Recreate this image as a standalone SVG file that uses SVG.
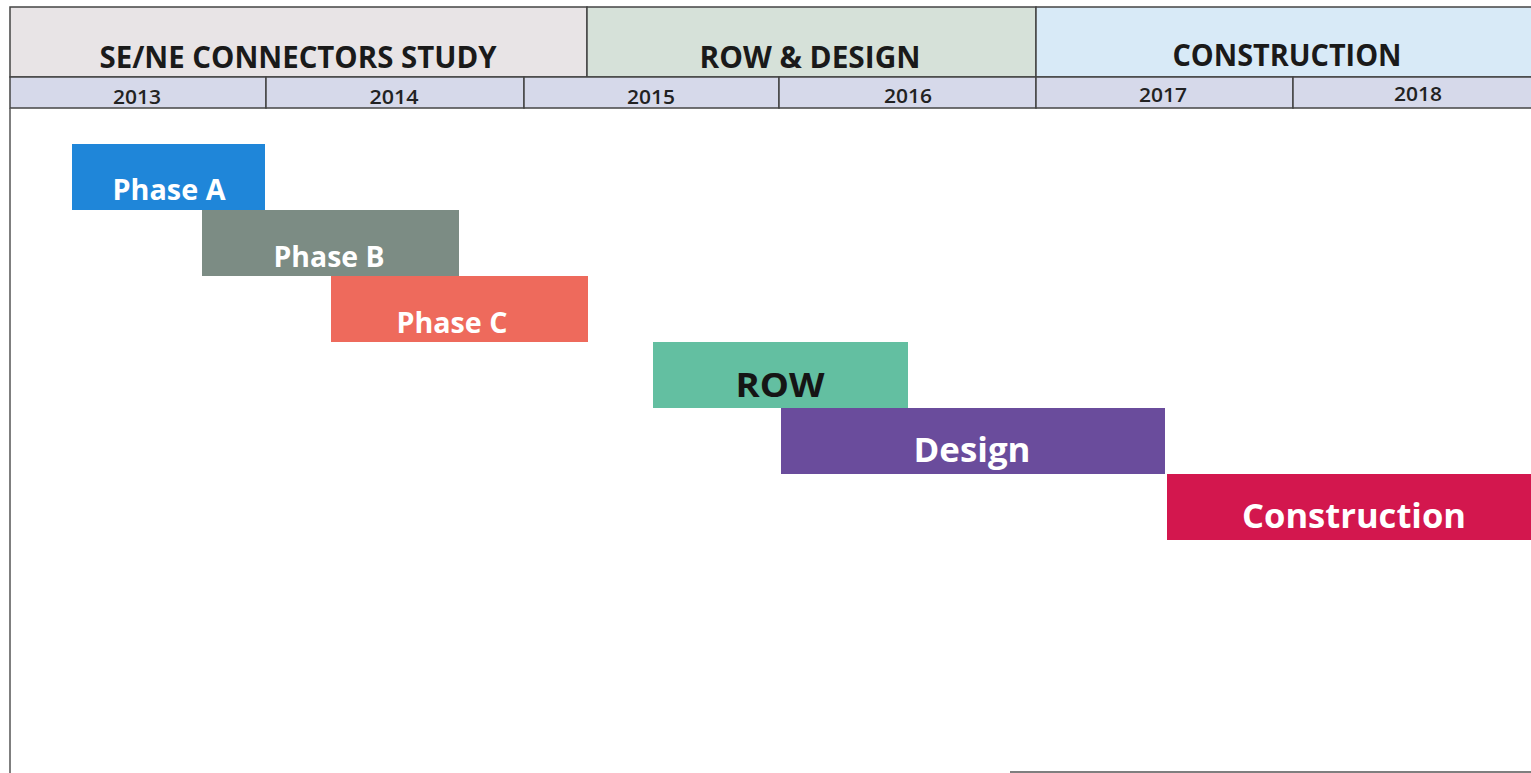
<svg xmlns="http://www.w3.org/2000/svg" width="1531" height="773" viewBox="0 0 1531 773">
<style>
.t{font-family:"Open Sans","Noto Sans","Liberation Sans",sans-serif;font-weight:bold;}
.hd{font-size:31px;fill:#1a1a1a;}
.yr{font-size:20px;fill:#222;font-weight:600;}
.bar{font-size:28px;fill:#fff;}
.cell{stroke:#444;stroke-width:1.5;}
</style>
<rect width="1531" height="773" fill="#fff"/>
<g id="header">
<rect class="cell" x="10" y="7" width="577" height="70" fill="#e8e4e6"/>
<rect class="cell" x="587" y="7" width="449" height="70" fill="#d6e1d9"/>
<rect class="cell" x="1036" y="7" width="497" height="70" fill="#d8eaf7"/>
<text class="t hd" x="298" y="68" text-anchor="middle" textLength="397" lengthAdjust="spacingAndGlyphs">SE/NE CONNECTORS STUDY</text>
<text class="t hd" x="810" y="68" text-anchor="middle" textLength="221" lengthAdjust="spacingAndGlyphs">ROW &amp; DESIGN</text>
<text class="t hd" x="1287" y="66" text-anchor="middle" textLength="229" lengthAdjust="spacingAndGlyphs">CONSTRUCTION</text>
</g>
<g id="years">
<rect class="cell" x="10" y="77" width="256" height="31" fill="#d6d9ea"/>
<rect class="cell" x="266" y="77" width="258" height="31" fill="#d6d9ea"/>
<rect class="cell" x="524" y="77" width="255" height="31" fill="#d6d9ea"/>
<rect class="cell" x="779" y="77" width="257" height="31" fill="#d6d9ea"/>
<rect class="cell" x="1036" y="77" width="257" height="31" fill="#d6d9ea"/>
<rect class="cell" x="1293" y="77" width="240" height="31" fill="#d6d9ea"/>
<text class="t yr" x="137" y="104" text-anchor="middle" textLength="48" lengthAdjust="spacingAndGlyphs">2013</text>
<text class="t yr" x="394" y="104" text-anchor="middle" textLength="49" lengthAdjust="spacingAndGlyphs">2014</text>
<text class="t yr" x="651" y="104" text-anchor="middle" textLength="48" lengthAdjust="spacingAndGlyphs">2015</text>
<text class="t yr" x="908" y="103" text-anchor="middle" textLength="48" lengthAdjust="spacingAndGlyphs">2016</text>
<text class="t yr" x="1163" y="102" text-anchor="middle" textLength="48" lengthAdjust="spacingAndGlyphs">2017</text>
<text class="t yr" x="1418" y="101" text-anchor="middle" textLength="48" lengthAdjust="spacingAndGlyphs">2018</text>
</g>
<g id="frame">
<line x1="10" y1="108" x2="10" y2="773" stroke="#555" stroke-width="1.5"/>
<line x1="1010" y1="772" x2="1531" y2="772" stroke="#555" stroke-width="1.5"/>
</g>
<g id="phase-a">
<rect x="72" y="144" width="193" height="66" fill="#1f86d9"/>
<text class="t bar" x="169" y="200" text-anchor="middle" textLength="113" lengthAdjust="spacingAndGlyphs">Phase A</text>
</g>
<g id="phase-b">
<rect x="202" y="210" width="257" height="66" fill="#7c8c84"/>
<text class="t bar" x="329" y="267" text-anchor="middle" textLength="111" lengthAdjust="spacingAndGlyphs">Phase B</text>
</g>
<g id="phase-c">
<rect x="331" y="276" width="257" height="66" fill="#ee6a5c"/>
<text class="t bar" x="452" y="333" text-anchor="middle" textLength="111" lengthAdjust="spacingAndGlyphs">Phase C</text>
</g>
<g id="row">
<rect x="653" y="342" width="255" height="66" fill="#63bfa1"/>
<text class="t bar" style="font-size:34px;fill:#151515" x="780" y="397" text-anchor="middle" textLength="89" lengthAdjust="spacingAndGlyphs">ROW</text>
</g>
<g id="design">
<rect x="781" y="408" width="384" height="66" fill="#6a4c9c"/>
<text class="t bar" style="font-size:34px" x="972" y="462" text-anchor="middle" textLength="117" lengthAdjust="spacingAndGlyphs">Design</text>
</g>
<g id="construction">
<rect x="1167" y="474" width="364" height="66" fill="#d3174e"/>
<text class="t bar" style="font-size:34px" x="1354" y="528" text-anchor="middle" textLength="224" lengthAdjust="spacingAndGlyphs">Construction</text>
</g>
</svg>
